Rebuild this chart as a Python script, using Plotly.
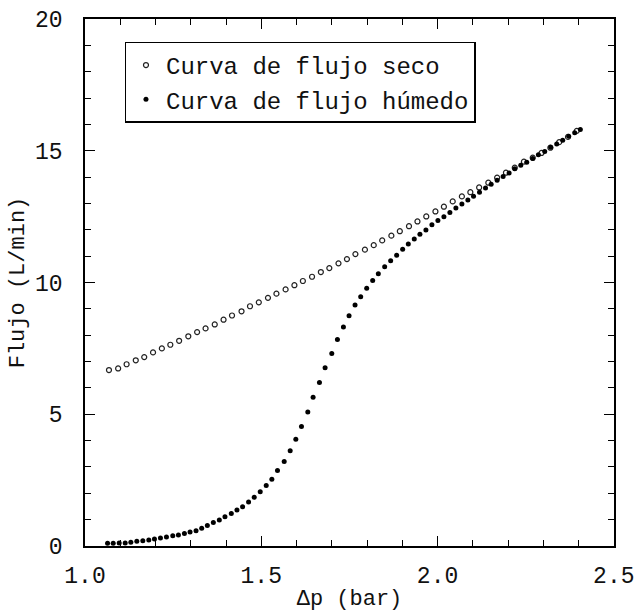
import plotly.graph_objects as go

dry_x = [1.068, 1.094, 1.118, 1.144, 1.168, 1.193, 1.218, 1.242, 1.267, 1.293,
         1.318, 1.342, 1.368, 1.393, 1.417, 1.444, 1.468, 1.493, 1.519, 1.543,
         1.569, 1.594, 1.618, 1.644, 1.669, 1.693, 1.719, 1.743, 1.767, 1.794,
         1.819, 1.843, 1.869, 1.893, 1.919, 1.943, 1.968, 1.994, 2.018, 2.043,
         2.069, 2.093, 2.118, 2.144, 2.169, 2.194, 2.219, 2.245, 2.270, 2.295,
         2.320, 2.345, 2.370, 2.395]
dry_y = [6.68, 6.74, 6.90, 7.05, 7.17, 7.35, 7.50, 7.64, 7.79, 7.96,
         8.12, 8.26, 8.41, 8.59, 8.75, 8.91, 9.10, 9.25, 9.42, 9.58,
         9.74, 9.90, 10.06, 10.22, 10.40, 10.55, 10.73, 10.89, 11.08, 11.25,
         11.42, 11.60, 11.78, 11.95, 12.14, 12.32, 12.51, 12.70, 12.88, 13.08,
         13.27, 13.43, 13.61, 13.79, 13.98, 14.17, 14.36, 14.59, 14.74, 14.92,
         15.12, 15.33, 15.53, 15.76]

wet_x = [1.064, 1.080, 1.097, 1.114, 1.130, 1.147, 1.164, 1.181, 1.197, 1.214,
         1.231, 1.249, 1.265, 1.282, 1.298, 1.315, 1.331, 1.347, 1.364, 1.381,
         1.397, 1.415, 1.431, 1.447, 1.464, 1.480, 1.497, 1.514, 1.530, 1.546,
         1.565, 1.582, 1.598, 1.614, 1.632, 1.647, 1.665, 1.681, 1.700, 1.716,
         1.733, 1.749, 1.766, 1.782, 1.799, 1.816, 1.832, 1.850, 1.867, 1.884,
         1.901, 1.917, 1.934, 1.950, 1.967, 1.984, 2.001, 2.018, 2.035, 2.052,
         2.069, 2.086, 2.102, 2.119, 2.136, 2.152, 2.169, 2.186, 2.203, 2.219,
         2.236, 2.253, 2.270, 2.286, 2.304, 2.321, 2.338, 2.355, 2.372, 2.389,
         2.405]
wet_y = [0.10, 0.10, 0.11, 0.11, 0.14, 0.18, 0.20, 0.23, 0.27, 0.30,
         0.34, 0.39, 0.42, 0.47, 0.53, 0.58, 0.67, 0.78, 0.89, 0.99,
         1.11, 1.23, 1.37, 1.49, 1.67, 1.85, 2.06, 2.30, 2.53, 2.87,
         3.21, 3.62, 4.05, 4.54, 5.09, 5.65, 6.21, 6.77, 7.31, 7.84,
         8.31, 8.74, 9.15, 9.46, 9.78, 10.08, 10.33, 10.60, 10.83, 11.04,
         11.26, 11.46, 11.65, 11.83, 12.00, 12.19, 12.36, 12.50, 12.66, 12.83,
         12.98, 13.13, 13.28, 13.43, 13.59, 13.73, 13.88, 14.03, 14.16, 14.32,
         14.45, 14.57, 14.71, 14.85, 14.98, 15.14, 15.26, 15.40, 15.55, 15.69,
         15.81]

x_ticks = [1.0, 1.5, 2.0, 2.5]
x_tick_labels = ["1.0", "1.5", "2.0", "2.5"]
y_ticks = [0, 5, 10, 15, 20]
y_tick_labels = ["0", "5", "10", "15", "20"]

FONT = "Liberation Mono"

fig = go.Figure()
fig.add_trace(go.Scatter(
    x=dry_x, y=dry_y, mode="markers", name="Curva de flujo seco",
    marker=dict(symbol="circle-open", size=5, color="#222",
                line=dict(width=1.2, color="#222")),
))
fig.add_trace(go.Scatter(
    x=wet_x, y=wet_y, mode="markers", name="Curva de flujo húmedo",
    marker=dict(symbol="circle", size=5, color="#000"),
))

axis_common = dict(
    showline=True, linecolor="black", linewidth=1.6, mirror="ticks",
    ticks="inside", ticklen=10, tickwidth=1.3, tickcolor="black",
    showgrid=False, zeroline=False, ticklabeloverflow="allow",
    automargin=False,
    tickfont=dict(family=FONT, size=23, color="#111"),
)

fig.update_xaxes(
    range=[1.0, 2.5005], tickvals=x_ticks, ticktext=x_tick_labels,
    ticklabelstandoff=8,
    minor=dict(dtick=0.1, ticks="inside", ticklen=6, tickwidth=1.1, tickcolor="black"),
    title=dict(text="Δp (bar)", font=dict(family=FONT, size=22, color="#111"), standoff=2),
    **axis_common,
)
fig.update_yaxes(
    range=[0, 20.005], tickvals=y_ticks, ticktext=y_tick_labels,
    ticklabelstandoff=16,
    minor=dict(dtick=1, ticks="inside", ticklen=6, tickwidth=1.1, tickcolor="black"),
    title=dict(text="Flujo (L/min)", font=dict(family=FONT, size=22, color="#111"), standoff=4),
    **axis_common,
)

fig.update_layout(
    width=637, height=612,
    margin=dict(l=85, r=23, t=19, b=66),
    paper_bgcolor="white", plot_bgcolor="white",
    showlegend=True,
    legend=dict(
        x=0.075, y=0.957, xanchor="left", yanchor="top",
        bgcolor="white", bordercolor="black", borderwidth=1.3,
        font=dict(family=FONT, size=24, color="#111"),
        itemsizing="trace", tracegroupgap=0,
    ),
)

fig.write_html("out.html")
